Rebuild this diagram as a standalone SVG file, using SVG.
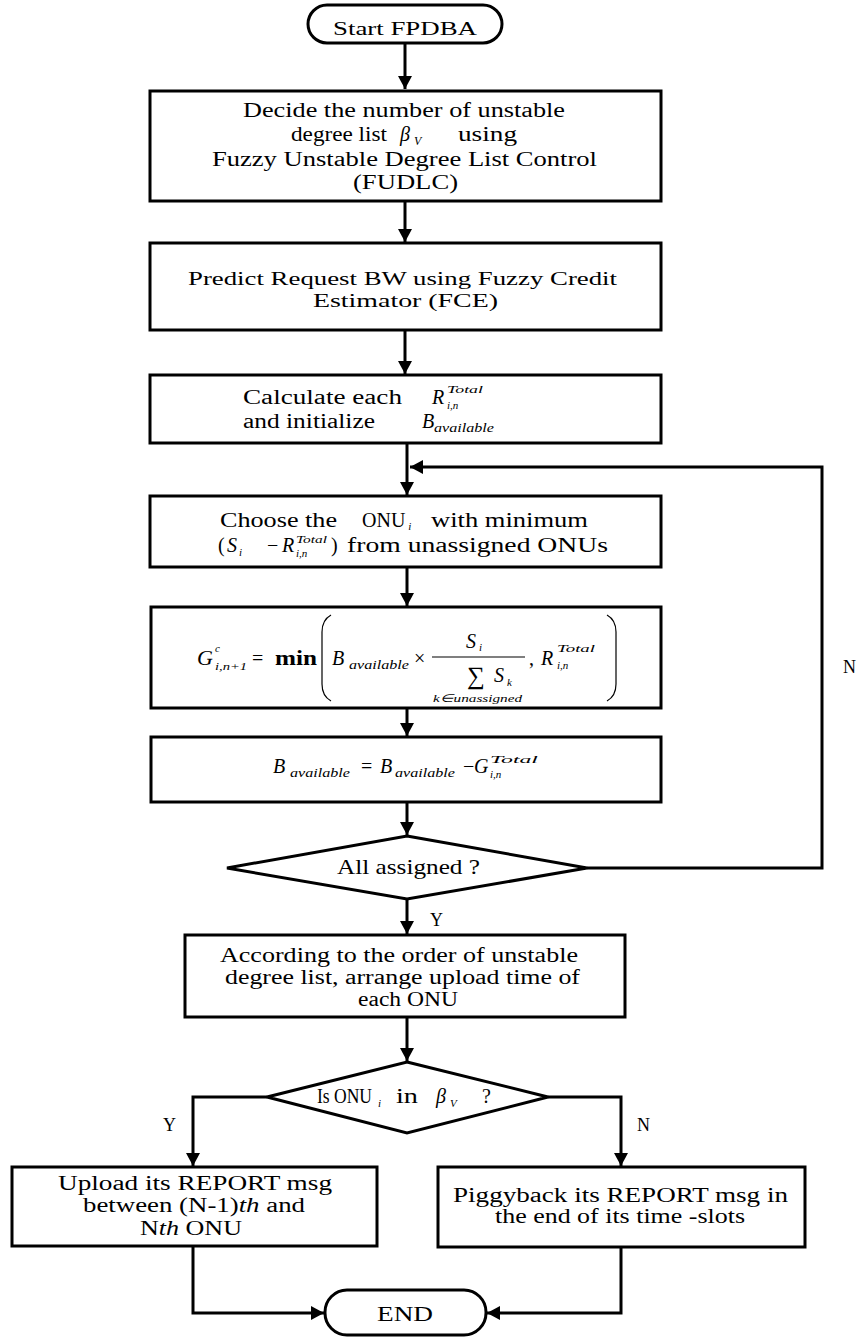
<svg xmlns="http://www.w3.org/2000/svg" width="858" height="1337" viewBox="0 0 858 1337">
<defs>
<style>
.box{fill:#fff;stroke:#000;stroke-width:3}
.t{font-family:"Liberation Serif","Times New Roman",serif;font-size:20px;fill:#000}
.i{font-style:italic}
.s{font-size:12px}
.xs{font-size:11px}
.ln{fill:none;stroke:#000;stroke-width:3}
.thin{fill:none;stroke:#000;stroke-width:1.2}
</style>
<marker id="ah" markerUnits="userSpaceOnUse" markerWidth="16" markerHeight="16" refX="13" refY="7" orient="auto">
<path d="M0,0 L13,7 L0,14 z" fill="#000"/>
</marker>
</defs>
<rect width="858" height="1337" fill="#fff"/>

<g id="connectors">
<line class="ln" x1="405" y1="43" x2="405" y2="89" marker-end="url(#ah)"/>
<line class="ln" x1="405" y1="201" x2="405" y2="242" marker-end="url(#ah)"/>
<line class="ln" x1="405" y1="330" x2="405" y2="374" marker-end="url(#ah)"/>
<line class="ln" x1="407" y1="443" x2="407" y2="495" marker-end="url(#ah)"/>
<polyline class="ln" points="587,868 822,868 822,467 410,467" marker-end="url(#ah)"/>
<line class="ln" x1="407" y1="567" x2="407" y2="606" marker-end="url(#ah)"/>
<line class="ln" x1="407" y1="708" x2="407" y2="736" marker-end="url(#ah)"/>
<line class="ln" x1="407" y1="802" x2="407" y2="835" marker-end="url(#ah)"/>
<line class="ln" x1="407" y1="899" x2="407" y2="934" marker-end="url(#ah)"/>
<line class="ln" x1="407" y1="1017" x2="407" y2="1061" marker-end="url(#ah)"/>
<polyline class="ln" points="267,1097 193,1097 193,1166" marker-end="url(#ah)"/>
<polyline class="ln" points="548,1097 621,1097 621,1166" marker-end="url(#ah)"/>
<polyline class="ln" points="193,1246 193,1313 324,1313" marker-end="url(#ah)"/>
<polyline class="ln" points="621,1247 621,1313 487,1313" marker-end="url(#ah)"/>
<text class="t" x="843" y="673" style="font-size:18px">N</text>
<text class="t" x="430" y="926" style="font-size:18px">Y</text>
<text class="t" x="163" y="1131" style="font-size:18px">Y</text>
<text class="t" x="637" y="1131" style="font-size:18px">N</text>
</g>

<g id="start">
<rect class="box" x="308" y="5" width="194" height="38" rx="19"/>
<text class="t" x="333" y="35" style="font-size:18px" textLength="144" lengthAdjust="spacingAndGlyphs">Start FPDBA</text>
</g>

<g id="fudlc">
<rect class="box" x="150" y="91" width="511" height="110"/>
<text class="t" x="243" y="117" textLength="322" lengthAdjust="spacingAndGlyphs">Decide the number of unstable</text>
<text class="t" x="291" y="141" textLength="96" lengthAdjust="spacingAndGlyphs">degree list</text>
<text class="t i" x="400" y="141">β</text>
<text class="t i s" x="414" y="145">V</text>
<text class="t" x="458" y="141" textLength="59" lengthAdjust="spacingAndGlyphs">using</text>
<text class="t" x="212" y="166" textLength="385" lengthAdjust="spacingAndGlyphs">Fuzzy Unstable Degree List Control</text>
<text class="t" x="353" y="189" textLength="105" lengthAdjust="spacingAndGlyphs">(FUDLC)</text>
</g>

<g id="fce">
<rect class="box" x="150" y="243" width="511" height="87"/>
<text class="t" x="188" y="285" style="font-size:19px" textLength="429" lengthAdjust="spacingAndGlyphs">Predict Request BW using Fuzzy Credit</text>
<text class="t" x="313" y="307" style="font-size:19px" textLength="185" lengthAdjust="spacingAndGlyphs">Estimator  (FCE)</text>
</g>

<g id="calc">
<rect class="box" x="150" y="375" width="511" height="68"/>
<text class="t" x="243" y="404" textLength="159" lengthAdjust="spacingAndGlyphs">Calculate  each</text>
<text class="t" x="243" y="428" textLength="132" lengthAdjust="spacingAndGlyphs">and initialize</text>
<text class="t i" x="432" y="404">R</text>
<text class="t i xs" x="447" y="393" textLength="36" lengthAdjust="spacingAndGlyphs">Total</text>
<text class="t i xs" x="447" y="409">i,n</text>
<text class="t i" x="422" y="428">B</text>
<text class="t i s" x="434" y="432" textLength="60" lengthAdjust="spacingAndGlyphs">available</text>
</g>

<g id="choose">
<rect class="box" x="150" y="496" width="511" height="71"/>
<text class="t" x="220" y="527" textLength="117" lengthAdjust="spacingAndGlyphs">Choose the</text>
<text class="t" x="362" y="527">ONU<tspan class="i xs" dx="3" dy="3">i</tspan></text>
<text class="t" x="431" y="527" textLength="157" lengthAdjust="spacingAndGlyphs">with minimum</text>
<text class="t" x="218" y="552">(</text>
<text class="t i" x="227" y="552">S</text>
<text class="t i xs" x="239" y="556">i</text>
<text class="t" x="267" y="552">−</text>
<text class="t i" x="282" y="552">R</text>
<text class="t i xs" x="296" y="543" textLength="31" lengthAdjust="spacingAndGlyphs">Total</text>
<text class="t i xs" x="296" y="557">i,n</text>
<text class="t" x="331" y="552">)</text>
<text class="t" x="347" y="552" textLength="261" lengthAdjust="spacingAndGlyphs">from unassigned ONUs</text>
</g>

<g id="grant">
<rect class="box" x="151" y="607" width="510" height="101"/>
<text class="t i" x="197" y="665" style="font-size:22px">G</text>
<text class="t i xs" x="215" y="652">c</text>
<text class="t i xs" x="215" y="670" textLength="32" lengthAdjust="spacingAndGlyphs">i,n+1</text>
<text class="t" x="252" y="665">=</text>
<text class="t" x="275" y="665" style="font-weight:bold" textLength="42" lengthAdjust="spacingAndGlyphs">min</text>
<path class="thin" d="M331,615 Q322,620 322,632 L322,684 Q322,696 331,701"/>
<path class="thin" d="M607,615 Q616,620 616,632 L616,684 Q616,696 607,701"/>
<text class="t i" x="332" y="665">B</text>
<text class="t i s" x="349" y="669" style="font-size:13px" textLength="60" lengthAdjust="spacingAndGlyphs">available</text>
<text class="t" x="414" y="665">×</text>
<text class="t i" x="466" y="648">S</text>
<text class="t i xs" x="479" y="651">i</text>
<line class="thin" x1="432" y1="657" x2="525" y2="657"/>
<text class="t" x="467" y="684" style="font-size:25px">∑</text>
<text class="t i" x="494" y="682">S</text>
<text class="t i xs" x="507" y="686">k</text>
<text class="t i xs" x="433" y="702" textLength="89" lengthAdjust="spacingAndGlyphs">k∈unassigned</text>
<text class="t" x="529" y="665">,</text>
<text class="t i" x="541" y="665">R</text>
<text class="t i xs" x="557" y="652" textLength="38" lengthAdjust="spacingAndGlyphs">Total</text>
<text class="t i xs" x="557" y="669">i,n</text>
</g>

<g id="update">
<rect class="box" x="151" y="737" width="510" height="65"/>
<text class="t i" x="273" y="773">B</text>
<text class="t i s" x="290" y="777" style="font-size:13px" textLength="60" lengthAdjust="spacingAndGlyphs">available</text>
<text class="t" x="361" y="773">=</text>
<text class="t i" x="380" y="773">B</text>
<text class="t i s" x="395" y="777" style="font-size:13px" textLength="60" lengthAdjust="spacingAndGlyphs">available</text>
<text class="t" x="463" y="773">−</text>
<text class="t i" x="474" y="773">G</text>
<text class="t i xs" x="490" y="763" textLength="48" lengthAdjust="spacingAndGlyphs">Total</text>
<text class="t i xs" x="490" y="778">i,n</text>
</g>

<g id="allassigned">
<polygon class="box" points="407,836 587,868 407,899 227,868"/>
<text class="t" x="337" y="874" style="font-size:21px" textLength="143" lengthAdjust="spacingAndGlyphs">All assigned ?</text>
</g>

<g id="arrange">
<rect class="box" x="185" y="935" width="440" height="82"/>
<text class="t" x="220" y="962" textLength="358" lengthAdjust="spacingAndGlyphs">According  to the order of unstable</text>
<text class="t" x="225" y="984" textLength="355" lengthAdjust="spacingAndGlyphs">degree list, arrange upload time of</text>
<text class="t" x="358" y="1006" textLength="100" lengthAdjust="spacingAndGlyphs">each ONU</text>
</g>

<g id="isonu">
<polygon class="box" points="407,1062 548,1097 407,1133 267,1097"/>
<text class="t" x="317" y="1103" textLength="55" lengthAdjust="spacingAndGlyphs">Is ONU</text>
<text class="t i xs" x="378" y="1107">i</text>
<text class="t" x="396" y="1103" textLength="22" lengthAdjust="spacingAndGlyphs">in</text>
<text class="t i" x="436" y="1103">β</text>
<text class="t i xs" x="450" y="1107">V</text>
<text class="t" x="482" y="1103">?</text>
</g>

<g id="upload">
<rect class="box" x="12" y="1167" width="365" height="79"/>
<text class="t" x="58" y="1190" textLength="274" lengthAdjust="spacingAndGlyphs">Upload its REPORT msg</text>
<text class="t" x="83" y="1212" textLength="222" lengthAdjust="spacingAndGlyphs">between (N-1)<tspan class="i">th</tspan> and</text>
<text class="t" x="140" y="1235" textLength="102" lengthAdjust="spacingAndGlyphs">N<tspan class="i">th</tspan> ONU</text>
</g>

<g id="piggyback">
<rect class="box" x="438" y="1167" width="367" height="80"/>
<text class="t" x="453" y="1202" textLength="335" lengthAdjust="spacingAndGlyphs">Piggyback its REPORT msg in</text>
<text class="t" x="495" y="1223" textLength="250" lengthAdjust="spacingAndGlyphs">the end of its time -slots</text>
</g>

<g id="end">
<rect class="box" x="325" y="1290" width="161" height="45" rx="22"/>
<text class="t" x="377" y="1321" textLength="56" lengthAdjust="spacingAndGlyphs">END</text>
</g>
</svg>
